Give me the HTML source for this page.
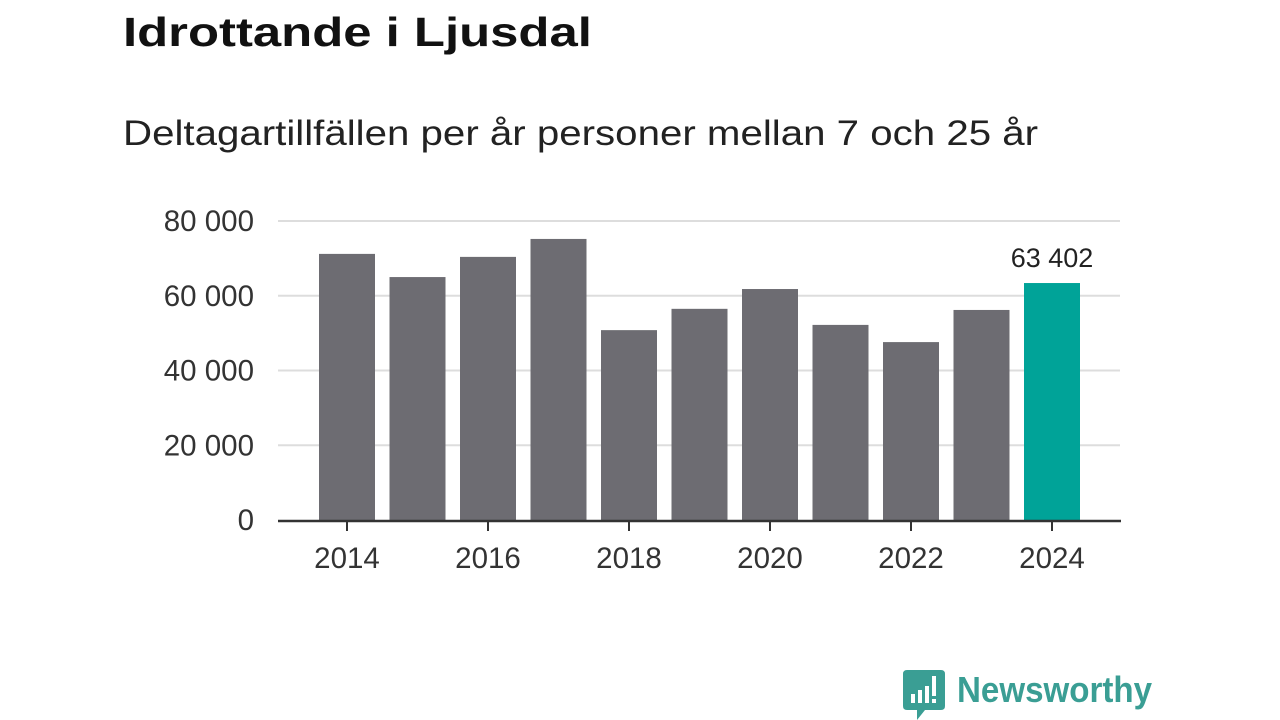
<!DOCTYPE html>
<html><head><meta charset="utf-8"><style>
body{margin:0;width:1280px;height:720px;background:#fff;font-family:"Liberation Sans","DejaVu Sans",sans-serif;overflow:hidden;position:relative}
#title{position:absolute;left:123px;top:9px;font-size:41px;font-weight:bold;color:#111;margin:0;transform:scaleX(1.24);transform-origin:left top;white-space:nowrap}
#sub{position:absolute;left:123px;top:114px;font-size:35px;color:#222;margin:0;transform:scaleX(1.15);transform-origin:left top;white-space:nowrap}
#logo{position:absolute;left:903px;top:670px}
#logotext{position:absolute;left:957px;top:669px;font-size:36px;color:#3a9e94;font-weight:bold;transform:scaleX(0.92);transform-origin:left top;white-space:nowrap}
</style></head><body>
<h1 id="title">Idrottande i Ljusdal</h1>
<p id="sub">Deltagartillfällen per år personer mellan 7 och 25 år</p>
<svg id="chart" width="1280" height="720" style="position:absolute;left:0;top:0"></svg>
<svg id="logo" width="42" height="50" viewBox="0 0 42 50">
<path d="M4 0H38Q42 0 42 4V36Q42 40 38 40H22L14 50V40H4Q0 40 0 36V4Q0 0 4 0Z" fill="#3a9e94"/>
<rect x="8" y="24" width="4" height="9" fill="#fff"/><rect x="15" y="20" width="4" height="13" fill="#fff"/><rect x="22" y="16" width="4" height="17" fill="#fff"/><rect x="29" y="6" width="4" height="20" fill="#fff"/><rect x="29" y="29" width="4" height="4" fill="#fff"/>
</svg>
<div id="logotext">Newsworthy</div>
<script>
const years=[2014,2015,2016,2017,2018,2019,2020,2021,2022,2023,2024];
const values=[71200,65000,70400,75200,50800,56500,61800,52200,47600,56200,63402];
const yTicks=[0,20000,40000,60000,80000];
const xTickYears=[2014,2016,2018,2020,2022,2024];
const highlightLabel="63 402";
const svg=document.getElementById('chart');
const NS='http://www.w3.org/2000/svg';
const y=v=>520-v*(299/80000);
const x=yr=>347+(yr-2014)*70.5;
const fmt=v=>v===0?'0':String(v).replace(/\B(?=(\d{3})+(?!\d))/g,' ');
function mk(t,a){const e=document.createElementNS(NS,t);for(const k in a)e.setAttribute(k,a[k]);svg.appendChild(e);return e;}
yTicks.forEach(v=>{
 if(v>0){const g=mk('line',{x1:278,x2:1120,y1:y(v),y2:y(v),stroke:'#ddd','stroke-width':2});
 
 }
 const t=mk('text',{x:254,y:y(v)+10,'text-anchor':'end','font-size':29.5,fill:'#333','font-family':'Liberation Sans, sans-serif'});
 t.textContent=fmt(v);
 
 
});
years.forEach((yr,i)=>{
 const last=i===years.length-1;
 const r=mk('rect',{x:x(yr)-28,y:y(values[i]),width:56,height:520-y(values[i]),fill:last?'#00a398':'#6d6c72'});
 
 
 if(last){const t=mk('text',{x:x(yr),y:y(values[i])-16,'text-anchor':'middle','font-size':27,fill:'#222'});
 t.textContent=highlightLabel;
 
 }
});
const ax=mk('line',{x1:278,x2:1121,y1:521,y2:521,stroke:'#333','stroke-width':2.5});


xTickYears.forEach(yr=>{
 const tk=mk('line',{x1:x(yr),x2:x(yr),y1:521,y2:531,stroke:'#333','stroke-width':2});
 
 
 const t=mk('text',{x:x(yr),y:568,'text-anchor':'middle','font-size':29.5,fill:'#333'});
 t.textContent=yr;
 
 
});
</script>
</body></html>
